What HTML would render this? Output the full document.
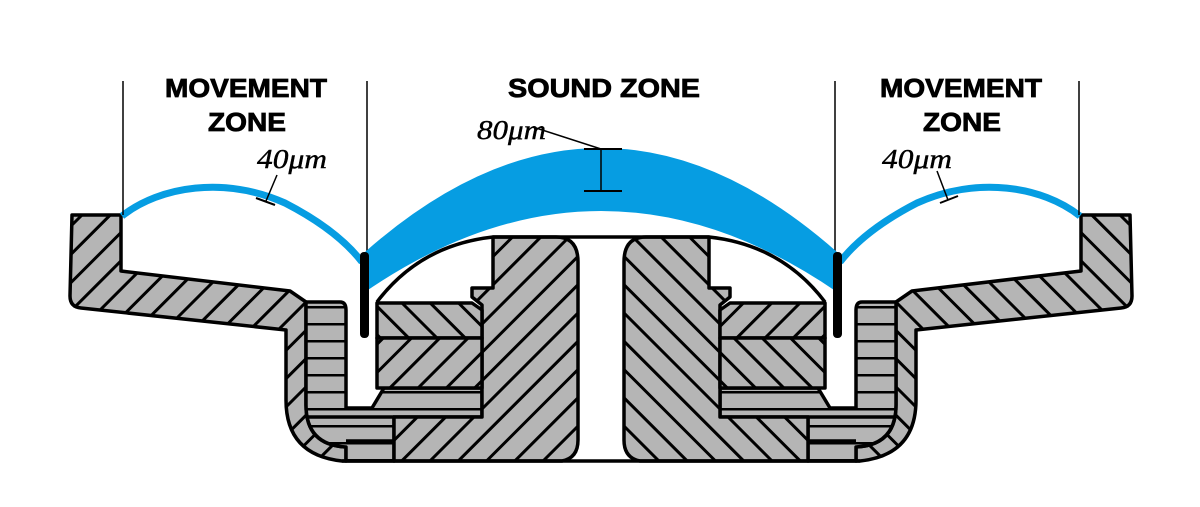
<!DOCTYPE html>
<html><head><meta charset="utf-8"><style>
html,body{margin:0;padding:0;background:#fff;}
svg{display:block;}
.h{font-family:"Liberation Sans",sans-serif;font-weight:bold;font-size:26px;fill:#000;stroke:#000;stroke-width:0.8px;}
.m{font-family:"Liberation Serif",serif;font-style:italic;font-size:27px;fill:#000;stroke:#000;stroke-width:0.4px;}
</style></head><body>
<svg width="1200" height="507" viewBox="0 0 1200 507" xmlns="http://www.w3.org/2000/svg">
<defs>
<pattern id="fw" patternUnits="userSpaceOnUse" width="20" height="20" patternTransform="rotate(45)">
<rect width="20" height="20" fill="#b5b5b5"/><line x1="10" y1="0" x2="10" y2="20" stroke="#000" stroke-width="3"/></pattern>
<pattern id="bw" patternUnits="userSpaceOnUse" width="20" height="20" patternTransform="rotate(-45)">
<rect width="20" height="20" fill="#b5b5b5"/><line x1="10" y1="0" x2="10" y2="20" stroke="#000" stroke-width="3"/></pattern>
<pattern id="hz" patternUnits="userSpaceOnUse" width="20" height="17" y="0">
<rect width="20" height="17" fill="#b5b5b5"/><line x1="0" y1="1" x2="20" y2="1" stroke="#000" stroke-width="3"/></pattern>
<g id="half" stroke="#000" stroke-width="3.5" stroke-linejoin="round">
  <path d="M72,215 H121 V271 L290,291 L306,302 V405 Q306,445 346,447 V461 H342 Q286,455 286,400 V330 L81,308 Q70,307 70,296 Z" fill="url(#fw)"/>
  <path d="M306,302 H340 Q346,302 346,310 V408 H372 L384,388 H482 V417 H394 V461 H346 V447 Q306,445 306,405 Z" fill="url(#hz)"/>
  <line x1="306" y1="417" x2="394" y2="417"/>
  <line x1="346" y1="441" x2="394" y2="441"/>
  <path d="M493,237 H556 Q578,237 578,262 V440 Q578,458 562,461 H394 V417 H482 V305 L472,297 V288 H493 Z" fill="url(#fw)"/>
  <path d="M377,303 H472 L482,310 V338 H377 Z" fill="url(#bw)"/>
  <path d="M377,338 H482 V388 H377 Z" fill="url(#fw)"/>
  <path d="M377,302 Q420,245 493,237" fill="none"/>
  <line x1="493" y1="237" x2="601" y2="237"/>
  <line x1="342" y1="461" x2="601" y2="461"/>
  <path d="M122,216 C160,186 225,176 285,203 C318,220 345,240 362,262" fill="none" stroke="#069de2" stroke-width="7"/>
  <line x1="123" y1="81" x2="123" y2="215" stroke-width="1.5"/>
  <line x1="367" y1="81" x2="367" y2="252" stroke-width="1.5"/>
</g>
</defs>
<use href="#half"/>
<use href="#half" transform="translate(1202,0) scale(-1,1)"/>
<path d="M365,252 Q601,44 837,252 L837,292 Q601,130 365,292 Z" fill="#069de2"/>
<rect x="360" y="252" width="9" height="86" rx="4" fill="#000"/>
<rect x="833" y="252" width="9" height="86" rx="4" fill="#000"/>
<g stroke="#000" stroke-width="1.5" fill="none">
  <line x1="601" y1="149" x2="601" y2="191"/>
  <line x1="584" y1="149" x2="622" y2="149" stroke-width="2"/>
  <line x1="584" y1="191" x2="622" y2="191" stroke-width="2"/>
  <line x1="533" y1="127" x2="601" y2="149"/>
  <line x1="277" y1="175" x2="266" y2="201"/>
  <line x1="256" y1="198" x2="275" y2="205" stroke-width="2"/>
  <line x1="937" y1="171" x2="948" y2="200"/>
  <line x1="940" y1="203" x2="958" y2="196" stroke-width="2"/>
</g>
<text class="h" x="165" y="97" textLength="162" lengthAdjust="spacingAndGlyphs">MOVEMENT</text>
<text class="h" x="208" y="131" textLength="78" lengthAdjust="spacingAndGlyphs">ZONE</text>
<text class="h" x="508" y="97" textLength="192" lengthAdjust="spacingAndGlyphs">SOUND ZONE</text>
<text class="h" x="880" y="97" textLength="162" lengthAdjust="spacingAndGlyphs">MOVEMENT</text>
<text class="h" x="923" y="131" textLength="78" lengthAdjust="spacingAndGlyphs">ZONE</text>
<text class="m" x="257" y="168" textLength="70" lengthAdjust="spacingAndGlyphs">40μm</text>
<text class="m" x="477" y="139" textLength="69" lengthAdjust="spacingAndGlyphs">80μm</text>
<text class="m" x="882" y="168" textLength="70" lengthAdjust="spacingAndGlyphs">40μm</text>
</svg>
</body></html>
